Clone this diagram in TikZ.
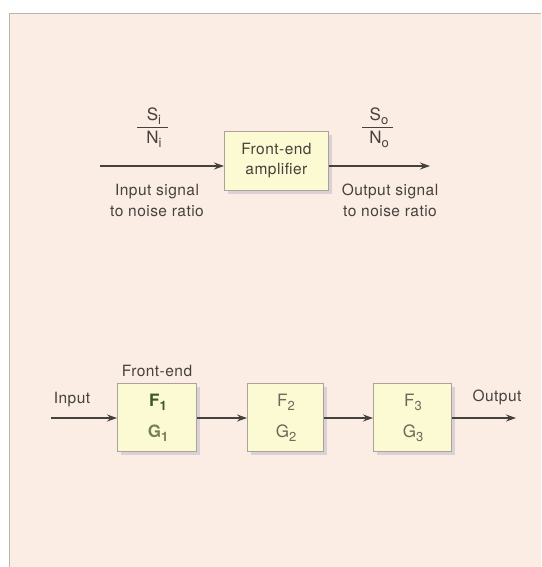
\documentclass[tikz,border=0pt]{standalone}
\usepackage{fontspec}
\setmainfont{TeX Gyre Heros}[LetterSpace=3]
\usetikzlibrary{arrows.meta}
\definecolor{bgpeach}{HTML}{FBEDE3}
\definecolor{boxfill}{HTML}{FBFAD2}
\definecolor{boxline}{HTML}{A8A49A}
\definecolor{ink}{HTML}{45413C}
\definecolor{shade}{HTML}{DCCFD8}
\definecolor{fone}{HTML}{3F5826}
\definecolor{gone}{HTML}{75805A}
\definecolor{fg}{HTML}{6E675B}
\newcommand{\sbs}[1]{\raisebox{-4pt}{\fontsize{13}{13}\selectfont #1}}
\tikzset{
  lbl/.style={text=ink, font=\fontsize{15.5}{18}\selectfont, inner sep=0pt},
  big/.style={text=ink, font=\fontsize{17}{20}\selectfont, inner sep=0pt},
  blk/.style={draw=boxline, fill=boxfill, line width=0.8pt, inner sep=0pt},
  conn/.style={draw=ink, line width=1.2pt, -{Stealth[length=10pt,width=7pt]}},
  shadowbox/.style={fill=shade, draw=none},
}
\begin{document}
\begin{tikzpicture}[x=1pt,y=-1pt]
\useasboundingbox (0,0) rectangle (541,567);
\fill[white] (0,0) rectangle (541,567);
\fill[bgpeach] (9,13) rectangle (541,567);
\draw[boxline!80, line width=0.8pt] (9,567) -- (9,13) -- (541,13);

% ---------- top ----------
\fill[shadowbox] (228,135) rectangle (332,194);
\node[blk, minimum width=104pt, minimum height=59pt, anchor=north west] (amp) at (224,131) {};
\node[lbl, align=center] at (amp.center) {Front-end\\[2pt]amplifier};
\coordinate (inl) at (100,166);
\coordinate (outr) at (430,166);
\draw[conn] (inl) -- (amp.west |- inl);
\draw[conn] (amp.east |- outr) -- (outr);

\node[big] (si) at (154,116) {S\sbs{i}};
\node[big] (ni) at (154,139) {N\sbs{i}};
\draw[ink, line width=1pt] (137,127) -- (168,127);
\node[big] (so) at (379,116) {S\sbs{o}};
\node[big] (no) at (379,139) {N\sbs{o}};
\draw[ink, line width=1pt] (362,127) -- (393,127);

\node[lbl, align=center] (intext) at (157,200) {Input signal\\[3pt]to noise ratio};
\node[lbl, align=center] (outtext) at (390,200) {Output signal\\[3pt]to noise ratio};

% ---------- bottom ----------
\fill[shadowbox] (121,387) rectangle (200,455);
\fill[shadowbox] (251,387) rectangle (327,455);
\fill[shadowbox] (377,387) rectangle (455,455);
\node[blk, minimum width=79pt, minimum height=68pt, anchor=north west] (b1) at (117,383) {};
\node[blk, minimum width=76pt, minimum height=68pt, anchor=north west] (b2) at (247,383) {};
\node[blk, minimum width=78pt, minimum height=68pt, anchor=north west] (b3) at (373,383) {};

\node[big, text=fone] (f1) at (158,402) {\textbf{F\sbs{1}}};
\node[big, text=gone] (g1) at (158,433) {\textbf{G\sbs{1}}};
\node[big, text=fg] (f2) at (286,402) {F\sbs{2}};
\node[big, text=fg] (g2) at (286,433) {G\sbs{2}};
\node[big, text=fg] (f3) at (413,402) {F\sbs{3}};
\node[big, text=fg] (g3) at (413,433) {G\sbs{3}};

\node[lbl] (fe) at (157,371) {Front-end};
\node[lbl] (inp) at (72,400) {Input};
\node[lbl] (outp) at (497,397) {Output};

\coordinate (bin) at (51,418);
\coordinate (bout) at (516,418);
\draw[conn] (bin) -- (b1.west |- bin);
\draw[conn] (b1.east |- bin) -- (b2.west |- bin);
\draw[conn] (b2.east |- bin) -- (b3.west |- bin);
\draw[conn] (b3.east |- bin) -- (bout);
\end{tikzpicture}
\end{document}
